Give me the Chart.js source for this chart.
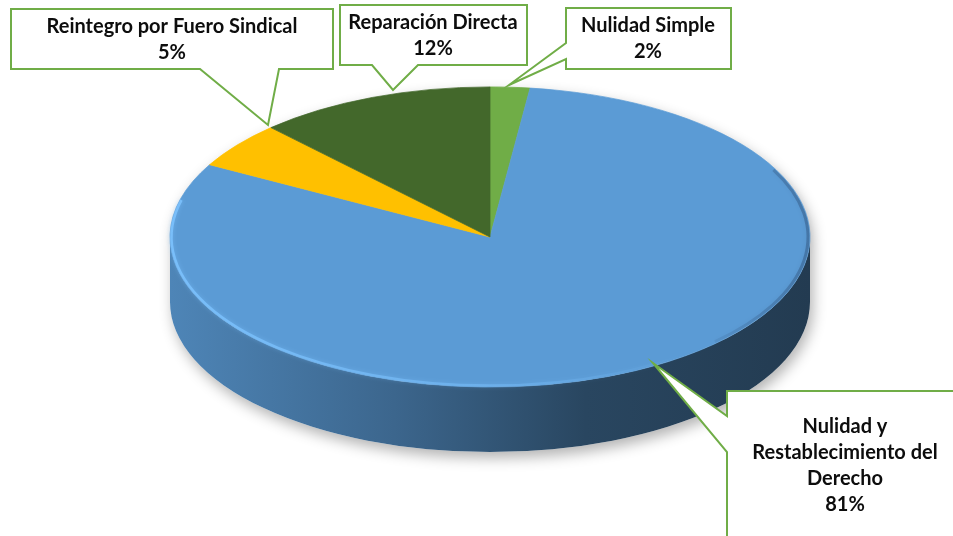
<!DOCTYPE html>
<html><head><meta charset="utf-8">
<script src="https://cdn.jsdelivr.net/npm/chart.js@4.4.1/dist/chart.umd.min.js"></script>
<style>html,body{margin:0;padding:0;background:#fff;overflow:hidden}canvas{display:block}</style>
</head><body>
<canvas id="c" width="953" height="536"></canvas>
<script>
// ---- data ----
const categories = ["Nulidad Simple", "Nulidad y Restablecimiento del Derecho", "Reintegro por Fuero Sindical", "Reparación Directa"];
const values = [2, 81, 5, 12];
const sliceColors = ["#70ad47", "#5b9bd5", "#ffc000", "#43682b"];

// ---- styles / layout ----
const TILT = 0.469;     // vertical squash of the pie
const DEPTH = 65;       // thickness of the 3D side
const FONT = "bold 20px Lato";
const LINE_H = 26;
const BORDER = "#70ad47";
// callout boxes: [x1,y1,x2,y2], pointer edge, pointer base, pointer tip, text centre x, first line y, wrap width
const callouts = [
  {box:[566,8,731,69],   edge:"left",   base:[43,59],   tip:[509,85],  tx:648, ty:26,  wrap:400},
  {box:[727,391,970,560],edge:"left",   base:[416,452], tip:[653,363], tx:845, ty:427, wrap:205},
  {box:[11,9,333,69],    edge:"bottom", base:[200,279], tip:[268,125], tx:172, ty:27,  wrap:400},
  {box:[340,5,527,65],   edge:"bottom", base:[372,418], tip:[393,90],  tx:433, ty:23,  wrap:400}
];

function shade(hex, f){
  const n = parseInt(hex.slice(1),16);
  const r = Math.round(((n>>16)&255)*f), g = Math.round(((n>>8)&255)*f), b = Math.round((n&255)*f);
  return `rgb(${r},${g},${b})`;
}
function wrapText(ctx, text, maxW){
  const words = text.split(" "); const lines = []; let cur = "";
  words.forEach(w=>{
    const t = cur ? cur + " " + w : w;
    if (ctx.measureText(t).width > maxW && cur){ lines.push(cur); cur = w; } else cur = t;
  });
  if (cur) lines.push(cur);
  return lines;
}

const pie3d = {
  id: "pie3d",
  beforeDatasetsDraw(chart){
    const ctx = chart.ctx, meta = chart.getDatasetMeta(0);
    const a0 = meta.data[0];
    const cx = a0.x, cy = a0.y, rx = a0.outerRadius, ry = rx*TILT;
    // soft shadow
    ctx.save();
    ctx.beginPath();
    ctx.ellipse(cx, cy, rx, ry, 0, Math.PI, 2*Math.PI);
    ctx.ellipse(cx, cy+DEPTH, rx, ry, 0, 0, Math.PI);
    ctx.closePath();
    ctx.shadowColor = "rgba(0,0,0,0.30)";
    ctx.shadowBlur = 14; ctx.shadowOffsetX = 3; ctx.shadowOffsetY = 6;
    ctx.fillStyle = "#ffffff"; ctx.fill();
    ctx.restore();
    // sides
    meta.data.forEach((el, i)=>{
      const s = Math.max(el.startAngle, 0), e = Math.min(el.endAngle, Math.PI);
      if (e <= s) return;
      const col = sliceColors[i];
      const g = ctx.createLinearGradient(cx-rx, 0, cx+rx, 0);
      g.addColorStop(0, shade(col, 0.86));
      g.addColorStop(0.35, shade(col, 0.66));
      g.addColorStop(0.65, shade(col, 0.45));
      g.addColorStop(1, shade(col, 0.38));
      ctx.save();
      ctx.beginPath();
      ctx.ellipse(cx, cy, rx, ry, 0, s, e);
      ctx.ellipse(cx, cy+DEPTH, rx, ry, 0, e, s, true);
      ctx.closePath();
      ctx.fillStyle = g; ctx.fill();
      ctx.restore();
    });
    // squash for the top face
    ctx.save();
    ctx.translate(cx, cy); ctx.scale(1, TILT); ctx.translate(-cx, -cy);
  },
  afterDatasetsDraw(chart){
    const ctx = chart.ctx; ctx.restore();
    const a0 = chart.getDatasetMeta(0).data[0];
    const cx = a0.x, cy = a0.y, rx = a0.outerRadius, ry = rx*TILT;
    // bevel highlight along the front rim
    ctx.save();
    const g = ctx.createLinearGradient(cx-rx, 0, cx+rx, 0);
    g.addColorStop(0, "rgba(125,195,255,0.85)");
    g.addColorStop(0.5, "rgba(125,195,255,0.45)");
    g.addColorStop(0.8, "rgba(125,195,255,0.0)");
    g.addColorStop(1, "rgba(125,195,255,0.0)");
    ctx.beginPath();
    ctx.ellipse(cx, cy, rx-1.5, ry-1.5, 0, 0.12*Math.PI, 1.08*Math.PI);
    ctx.strokeStyle = g; ctx.lineWidth = 2.5; ctx.shadowColor = "rgba(125,195,255,0.6)"; ctx.shadowBlur = 4;
    ctx.stroke();
    // darker shading on the right rim
    const g2 = ctx.createLinearGradient(cx+0.6*rx, 0, cx+rx, 0);
    g2.addColorStop(0, "rgba(30,55,90,0)");
    g2.addColorStop(1, "rgba(30,55,90,0.35)");
    ctx.beginPath();
    ctx.ellipse(cx, cy, rx-2, ry-2, 0, -0.15*Math.PI, 0.25*Math.PI);
    ctx.strokeStyle = g2; ctx.lineWidth = 3; ctx.shadowBlur = 5; ctx.shadowColor = "rgba(30,55,90,0.3)";
    ctx.stroke();
    ctx.restore();
  },
  afterDraw(chart){
    const ctx = chart.ctx;
    const total = values.reduce((a,b)=>a+b,0);
    ctx.save();
    callouts.forEach((c, i)=>{
      const [x1,y1,x2,y2] = c.box;
      ctx.beginPath();
      if (c.edge === "bottom"){
        ctx.moveTo(x1,y1); ctx.lineTo(x2,y1); ctx.lineTo(x2,y2);
        ctx.lineTo(c.base[1],y2); ctx.lineTo(c.tip[0],c.tip[1]); ctx.lineTo(c.base[0],y2);
        ctx.lineTo(x1,y2); ctx.closePath();
      } else {
        ctx.moveTo(x1,y1); ctx.lineTo(x2,y1); ctx.lineTo(x2,y2); ctx.lineTo(x1,y2);
        ctx.lineTo(x1,c.base[1]); ctx.lineTo(c.tip[0],c.tip[1]); ctx.lineTo(x1,c.base[0]);
        ctx.closePath();
      }
      ctx.fillStyle = "#ffffff"; ctx.fill();
      ctx.strokeStyle = BORDER; ctx.lineWidth = 2; ctx.lineJoin = "miter"; ctx.stroke();
      ctx.font = FONT; ctx.fillStyle = "#0d0d0d"; ctx.textAlign = "center"; ctx.textBaseline = "middle";
      const lines = wrapText(ctx, categories[i], c.wrap);
      lines.push(Math.round(values[i]/total*100) + "%");
      lines.forEach((t, k)=> ctx.fillText(t, c.tx, c.ty + k*LINE_H));
    });
    ctx.restore();
  }
};

new Chart(document.getElementById("c"), {
  type: "pie",
  data: { labels: categories, datasets: [{ data: values, backgroundColor: sliceColors, borderColor: sliceColors, borderWidth: 1, radius: 320, clip: false }] },
  options: {
    responsive: false, animation: false,
    layout: { padding: { left: 27, right: 0, top: 0, bottom: 62 } },
    plugins: { legend: { display: false }, tooltip: { enabled: false } },
    events: []
  },
  plugins: [pie3d]
});
</script>
</body></html>
